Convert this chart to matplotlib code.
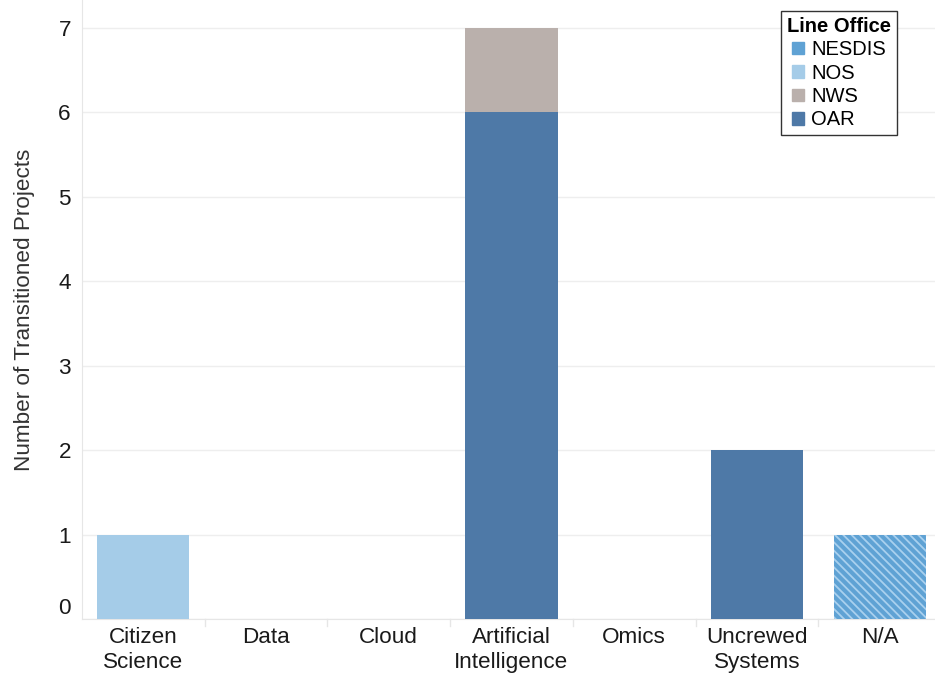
import matplotlib
matplotlib.use("Agg")
import matplotlib.pyplot as plt
import matplotlib.transforms as mtransforms
from matplotlib.patches import Patch
import numpy as np

plt.rcParams["font.family"] = ["Liberation Sans", "DejaVu Sans"]
plt.rcParams["hatch.linewidth"] = 1.3

categories = ["Citizen\nScience", "Data", "Cloud", "Artificial\nIntelligence",
              "Omics", "Uncrewed\nSystems", "N/A"]
oar = [0, 0, 0, 6, 0, 2, 0]
nws = [0, 0, 0, 1, 0, 0, 0]
nos = [1, 0, 0, 0, 0, 0, 0]
nesdis = [0, 0, 0, 0, 0, 0, 1]  # only the N/A bar, drawn hatched

colors = {"NESDIS": "#5fa2d4", "NOS": "#a5cce8", "NWS": "#bab0ac", "OAR": "#4e79a7"}

fig = plt.figure(figsize=(9.35, 6.78), dpi=100)
# axes runs slightly past the right edge, like the cropped original
ax = fig.add_axes([82 / 935, 1 - 619 / 678, 859 / 935, 619 / 678])

x = np.arange(len(categories))
w = 0.75
bottom = np.zeros(len(categories))
for name, vals in [("OAR", oar), ("NWS", nws), ("NOS", nos)]:
    vals = np.array(vals)
    ax.bar(x, vals, w, bottom=bottom, color=colors[name], linewidth=0, zorder=3)
    bottom += vals
ax.bar(x, nesdis, w, bottom=bottom, color=colors["NESDIS"], edgecolor="#a9d0ee",
       hatch="\\\\\\\\", linewidth=0, zorder=3)

ax.set_xlim(-0.5, len(categories) - 0.5)
ax.set_ylim(0, 7.33)
ax.set_yticks(range(8))
ax.set_xticks(x)
ax.set_xticklabels(categories, fontsize=16.2, color="#1a1a1a", linespacing=1.25)
ax.tick_params(axis="y", labelsize=16.2, length=0, pad=8, labelcolor="#1a1a1a")
ax.tick_params(axis="x", length=0, pad=6)
# Tableau-style: nudge the zero label up off the baseline
lab0 = ax.get_yticklabels()[0]
lab0.set_transform(lab0.get_transform() + mtransforms.ScaledTranslation(0, 13 / 100, fig.dpi_scale_trans))

ax.grid(axis="y", color="#eeeeee", linewidth=1, zorder=0)
for s in ["top", "right"]:
    ax.spines[s].set_visible(False)
ax.spines["left"].set_color("#e6e6e6")
ax.spines["bottom"].set_color("#e6e6e6")
# light category dividers below the axis
for xi in x[:-1] + 0.5:
    ax.plot([xi, xi], [0, -0.08], color="#e6e6e6", lw=1, clip_on=False)

ax.set_ylabel("Number of Transitioned Projects", fontsize=16.2, color="#333333", labelpad=17)

handles = [Patch(color=colors[k]) for k in ["NESDIS", "NOS", "NWS", "OAR"]]
leg = ax.legend(handles, ["NESDIS", "NOS", "NWS", "OAR"], title="Line Office",
                loc="upper right", bbox_to_anchor=(0.9605, 0.999), fontsize=14.5,
                title_fontproperties={"weight": "bold", "size": 14.5},
                handlelength=0.6, handleheight=0.6, handletextpad=0.35,
                labelspacing=0.22, borderpad=0.3, fancybox=False, framealpha=1)
leg.get_frame().set_edgecolor("#333333")
leg.get_frame().set_linewidth(1)
leg.set_zorder(5)

fig.savefig("out.png", dpi=100)
